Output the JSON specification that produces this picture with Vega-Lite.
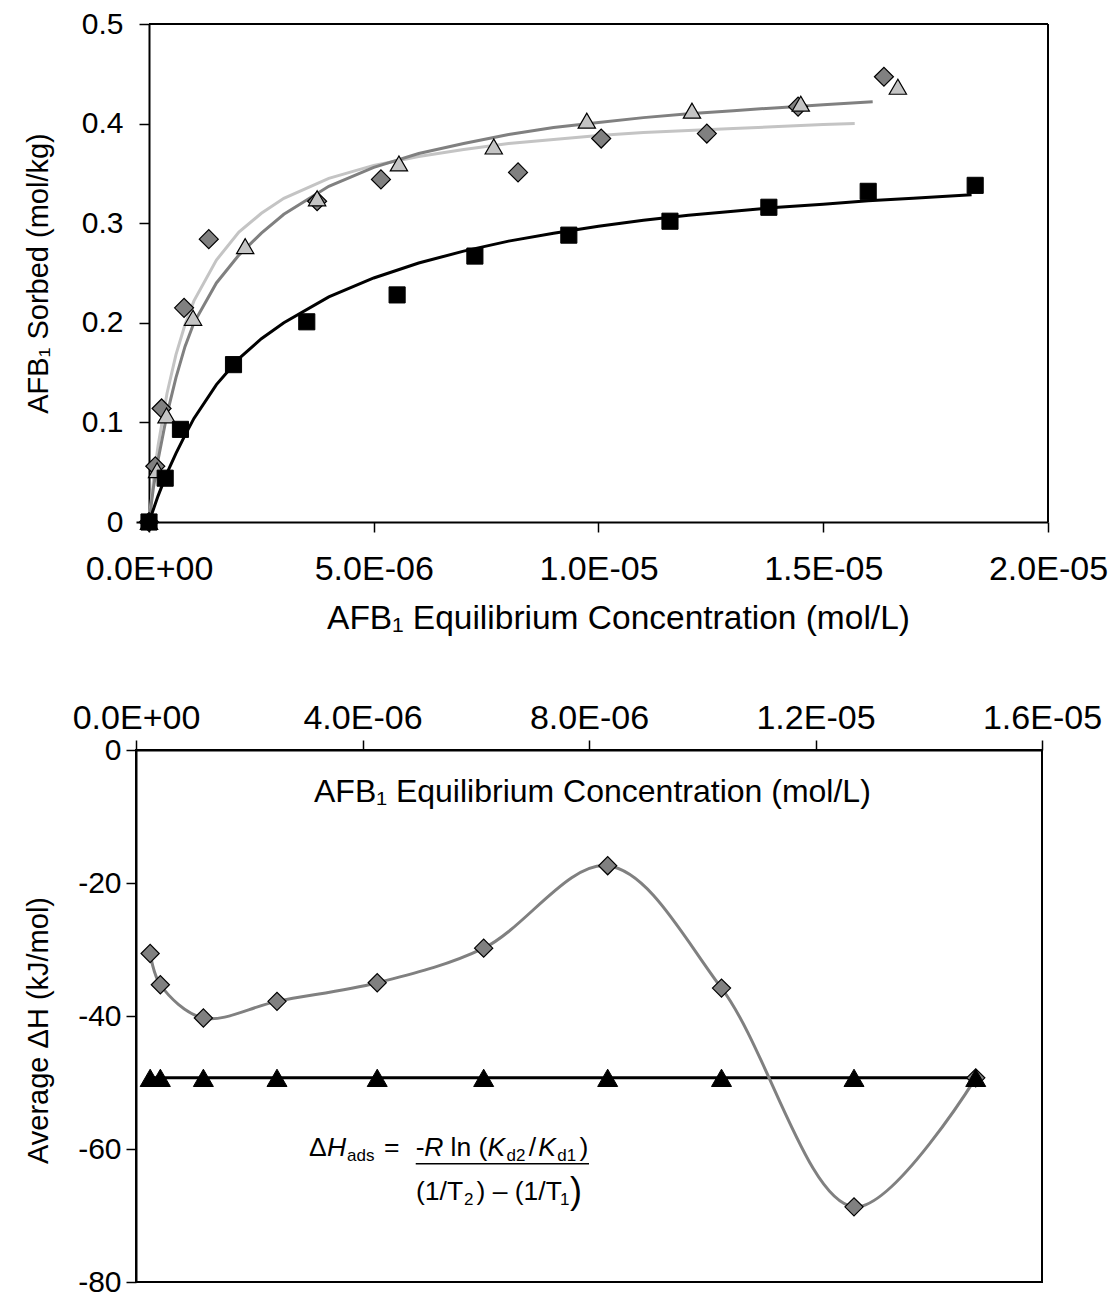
{
  "$schema": "https://vega.github.io/schema/vega-lite/v6.json",
  "background": "white",
  "padding": {"top": 9, "left": 23, "right": 2, "bottom": 0},
  "config": {
    "font": "Liberation Sans",
    "axis": {
      "labelFont": "Liberation Sans", "titleFont": "Liberation Sans",
      "labelFontSize": 30, "titleFontSize": 29, "titleFontWeight": "normal",
      "labelColor": "black", "titleColor": "black",
      "domainColor": "black", "tickColor": "black",
      "domainWidth": 2, "tickWidth": 1.5, "tickSize": 10,
      "grid": false, "labelFlush": false, "labelOverlap": false, "labelBound": false
    }
  },
  "datasets": {
    "one": [{}],
    "curves": [
      {"s": "C", "c": 0, "q": 0}, {"s": "C", "c": 1e-7, "q": 0.042}, {"s": "C", "c": 2e-7, "q": 0.076}, {"s": "C", "c": 4e-7, "q": 0.129}, {"s": "C", "c": 6e-7, "q": 0.168}, {"s": "C", "c": 8e-7, "q": 0.198}, {"s": "C", "c": 1e-6, "q": 0.222}, {"s": "C", "c": 1.5e-6, "q": 0.263}, {"s": "C", "c": 2e-6, "q": 0.291}, {"s": "C", "c": 2.5e-6, "q": 0.310}, {"s": "C", "c": 3e-6, "q": 0.325}, {"s": "C", "c": 4e-6, "q": 0.345}, {"s": "C", "c": 5e-6, "q": 0.358}, {"s": "C", "c": 6e-6, "q": 0.367}, {"s": "C", "c": 7e-6, "q": 0.374}, {"s": "C", "c": 8e-6, "q": 0.380}, {"s": "C", "c": 9e-6, "q": 0.384}, {"s": "C", "c": 1e-5, "q": 0.388}, {"s": "C", "c": 1.1e-5, "q": 0.391}, {"s": "C", "c": 1.2e-5, "q": 0.393}, {"s": "C", "c": 1.3e-5, "q": 0.395}, {"s": "C", "c": 1.4e-5, "q": 0.397}, {"s": "C", "c": 1.5e-5, "q": 0.399}, {"s": "C", "c": 1.57e-5, "q": 0.400},
      {"s": "B", "c": 0, "q": 0}, {"s": "B", "c": 1e-7, "q": 0.035}, {"s": "B", "c": 2e-7, "q": 0.062}, {"s": "B", "c": 4e-7, "q": 0.108}, {"s": "B", "c": 6e-7, "q": 0.145}, {"s": "B", "c": 8e-7, "q": 0.176}, {"s": "B", "c": 1e-6, "q": 0.200}, {"s": "B", "c": 1.5e-6, "q": 0.240}, {"s": "B", "c": 2e-6, "q": 0.268}, {"s": "B", "c": 2.5e-6, "q": 0.290}, {"s": "B", "c": 3e-6, "q": 0.309}, {"s": "B", "c": 4e-6, "q": 0.337}, {"s": "B", "c": 5e-6, "q": 0.356}, {"s": "B", "c": 6e-6, "q": 0.370}, {"s": "B", "c": 7e-6, "q": 0.380}, {"s": "B", "c": 8e-6, "q": 0.389}, {"s": "B", "c": 9e-6, "q": 0.396}, {"s": "B", "c": 1e-5, "q": 0.401}, {"s": "B", "c": 1.1e-5, "q": 0.406}, {"s": "B", "c": 1.2e-5, "q": 0.410}, {"s": "B", "c": 1.3e-5, "q": 0.413}, {"s": "B", "c": 1.4e-5, "q": 0.416}, {"s": "B", "c": 1.5e-5, "q": 0.419}, {"s": "B", "c": 1.61e-5, "q": 0.422},
      {"s": "A", "c": 0, "q": 0}, {"s": "A", "c": 2e-7, "q": 0.026}, {"s": "A", "c": 4e-7, "q": 0.049}, {"s": "A", "c": 6e-7, "q": 0.069}, {"s": "A", "c": 8e-7, "q": 0.087}, {"s": "A", "c": 1e-6, "q": 0.104}, {"s": "A", "c": 1.5e-6, "q": 0.138}, {"s": "A", "c": 2e-6, "q": 0.164}, {"s": "A", "c": 2.5e-6, "q": 0.184}, {"s": "A", "c": 3e-6, "q": 0.200}, {"s": "A", "c": 4e-6, "q": 0.226}, {"s": "A", "c": 5e-6, "q": 0.245}, {"s": "A", "c": 6e-6, "q": 0.260}, {"s": "A", "c": 7e-6, "q": 0.272}, {"s": "A", "c": 8e-6, "q": 0.282}, {"s": "A", "c": 9e-6, "q": 0.290}, {"s": "A", "c": 1e-5, "q": 0.297}, {"s": "A", "c": 1.1e-5, "q": 0.303}, {"s": "A", "c": 1.2e-5, "q": 0.308}, {"s": "A", "c": 1.3e-5, "q": 0.312}, {"s": "A", "c": 1.4e-5, "q": 0.316}, {"s": "A", "c": 1.5e-5, "q": 0.319}, {"s": "A", "c": 1.6e-5, "q": 0.3225}, {"s": "A", "c": 1.7e-5, "q": 0.325}, {"s": "A", "c": 1.83e-5, "q": 0.3285}
    ],
    "points": [
      {"s": "B", "c": 0, "q": 0}, {"s": "B", "c": 1.4e-7, "q": 0.056}, {"s": "B", "c": 2.8e-7, "q": 0.114}, {"s": "B", "c": 7.8e-7, "q": 0.215}, {"s": "B", "c": 1.33e-6, "q": 0.284}, {"s": "B", "c": 3.74e-6, "q": 0.322}, {"s": "B", "c": 5.16e-6, "q": 0.344}, {"s": "B", "c": 8.21e-6, "q": 0.351}, {"s": "B", "c": 1.006e-5, "q": 0.385}, {"s": "B", "c": 1.241e-5, "q": 0.390}, {"s": "B", "c": 1.444e-5, "q": 0.417}, {"s": "B", "c": 1.635e-5, "q": 0.447},
      {"s": "C", "c": 0, "q": 0}, {"s": "C", "c": 1.8e-7, "q": 0.052}, {"s": "C", "c": 3.9e-7, "q": 0.107}, {"s": "C", "c": 9.8e-7, "q": 0.205}, {"s": "C", "c": 2.14e-6, "q": 0.277}, {"s": "C", "c": 3.74e-6, "q": 0.325}, {"s": "C", "c": 5.56e-6, "q": 0.360}, {"s": "C", "c": 7.67e-6, "q": 0.377}, {"s": "C", "c": 9.74e-6, "q": 0.403}, {"s": "C", "c": 1.208e-5, "q": 0.413}, {"s": "C", "c": 1.45e-5, "q": 0.420}, {"s": "C", "c": 1.666e-5, "q": 0.437},
      {"s": "A", "c": 0, "q": 0}, {"s": "A", "c": 3.6e-7, "q": 0.044}, {"s": "A", "c": 7.0e-7, "q": 0.093}, {"s": "A", "c": 1.88e-6, "q": 0.158}, {"s": "A", "c": 3.51e-6, "q": 0.201}, {"s": "A", "c": 5.52e-6, "q": 0.228}, {"s": "A", "c": 7.25e-6, "q": 0.267}, {"s": "A", "c": 9.34e-6, "q": 0.288}, {"s": "A", "c": 1.159e-5, "q": 0.302}, {"s": "A", "c": 1.379e-5, "q": 0.316}, {"s": "A", "c": 1.6e-5, "q": 0.332}, {"s": "A", "c": 1.838e-5, "q": 0.338}
    ],
    "dhAvg": [
      {"c": 2.5e-7, "v": -30.6}, {"c": 4.3e-7, "v": -35.3}, {"c": 1.19e-6, "v": -40.3}, {"c": 2.49e-6, "v": -37.8}, {"c": 4.26e-6, "v": -35.0}, {"c": 6.14e-6, "v": -29.8}, {"c": 8.33e-6, "v": -17.4}, {"c": 1.034e-5, "v": -35.8}, {"c": 1.268e-5, "v": -68.7}, {"c": 1.483e-5, "v": -49.3}
    ],
    "dhTri": [
      {"c": 2.5e-7, "v": -49.3}, {"c": 4.3e-7, "v": -49.3}, {"c": 1.19e-6, "v": -49.3}, {"c": 2.49e-6, "v": -49.3}, {"c": 4.26e-6, "v": -49.3}, {"c": 6.14e-6, "v": -49.3}, {"c": 8.33e-6, "v": -49.3}, {"c": 1.034e-5, "v": -49.3}, {"c": 1.268e-5, "v": -49.3}, {"c": 1.483e-5, "v": -49.3}
    ]
  },
  "spacing": 65,
  "vconcat": [
    {
      "width": 912,
      "height": 498,
      "view": {"stroke": null},
      "layer": [
        {
          "data": {"name": "curves"},
          "mark": {"type": "line", "strokeWidth": 3},
          "encoding": {
            "x": {"field": "c", "type": "quantitative",
                  "scale": {"domain": [-2.892e-7, 2e-5], "nice": false, "zero": false},
                  "axis": {"values": [0, 5e-6, 1e-5, 1.5e-5, 2e-5],
                           "labelExpr": "datum.value < 1e-7 ? '0.0E+00' : datum.value < 7e-6 ? '5.0E-06' : datum.value < 1.2e-5 ? '1.0E-05' : datum.value < 1.7e-5 ? '1.5E-05' : '2.0E-05'",
                           "labelFontSize": 34, "titleFontSize": 33.5, "titleX": 482,
                           "title": "AFB₁ Equilibrium Concentration (mol/L)", "labelPadding": 20, "titlePadding": 16}},
            "y": {"field": "q", "type": "quantitative",
                  "scale": {"domain": [0, 0.5], "nice": false},
                  "axis": {"values": [0, 0.1, 0.2, 0.3, 0.4, 0.5], "format": ".1~f",
                           "title": "AFB₁ Sorbed (mol/kg)", "offset": -13, "labelPadding": 16, "titlePadding": 28}},
            "color": {"field": "s", "type": "nominal",
                      "scale": {"domain": ["A", "B", "C"], "range": ["#000000", "#808080", "#c4c4c4"]},
                      "legend": null}
          }
        },
        {
          "data": {"name": "one"},
          "mark": {"type": "rule", "color": "black", "strokeWidth": 2},
          "encoding": {"x": {"datum": 0, "type": "quantitative"}, "x2": {"datum": 2e-5}, "y": {"datum": 0.5, "type": "quantitative"}}
        },
        {
          "data": {"name": "one"},
          "mark": {"type": "rule", "color": "black", "strokeWidth": 2},
          "encoding": {"x": {"datum": 2e-5, "type": "quantitative"}, "y": {"datum": 0, "type": "quantitative"}, "y2": {"datum": 0.5}}
        },
        {
          "data": {"name": "points"},
          "transform": [{"filter": "datum.s == 'B'"}],
          "mark": {"type": "point", "shape": "diamond", "filled": true, "opacity": 1, "fill": "#808080", "stroke": "black", "strokeWidth": 1.2, "size": 360},
          "encoding": {"x": {"field": "c", "type": "quantitative"}, "y": {"field": "q", "type": "quantitative"}}
        },
        {
          "data": {"name": "points"},
          "transform": [{"filter": "datum.s == 'C'"}],
          "mark": {"type": "point", "shape": "triangle-up", "filled": true, "opacity": 1, "fill": "#c4c4c4", "stroke": "black", "strokeWidth": 1.2, "size": 300},
          "encoding": {"x": {"field": "c", "type": "quantitative"}, "y": {"field": "q", "type": "quantitative"}}
        },
        {
          "data": {"name": "points"},
          "transform": [{"filter": "datum.s == 'A'"}],
          "mark": {"type": "point", "shape": "square", "filled": true, "opacity": 1, "fill": "black", "stroke": "black", "strokeWidth": 1, "size": 260},
          "encoding": {"x": {"field": "c", "type": "quantitative"}, "y": {"field": "q", "type": "quantitative"}}
        }
      ]
    },
    {
      "width": 906,
      "height": 532,
      "view": {"stroke": "black", "strokeWidth": 2},
      "layer": [
        {
          "data": {"name": "dhTri"},
          "mark": {"type": "line", "color": "black", "strokeWidth": 3},
          "encoding": {
            "x": {"field": "c", "type": "quantitative",
                  "scale": {"domain": [0, 1.6e-5], "nice": false},
                  "axis": {"orient": "top", "values": [0, 4e-6, 8e-6, 1.2e-5, 1.6e-5],
                           "labelExpr": "datum.value < 1e-7 ? '0.0E+00' : datum.value < 5e-6 ? '4.0E-06' : datum.value < 1e-5 ? '8.0E-06' : datum.value < 1.4e-5 ? '1.2E-05' : '1.6E-05'",
                           "labelFontSize": 34, "title": null, "labelPadding": 5}},
            "y": {"field": "v", "type": "quantitative",
                  "scale": {"domain": [-80, 0], "nice": false},
                  "axis": {"values": [-80, -60, -40, -20, 0], "labelExpr": "'' + datum.value",
                           "title": "Average ΔH (kJ/mol)", "titleY": 280, "labelPadding": 5, "titlePadding": 24}}
          }
        },
        {
          "data": {"name": "dhAvg"},
          "mark": {"type": "line", "color": "#808080", "strokeWidth": 3, "interpolate": "catmull-rom"},
          "encoding": {"x": {"field": "c", "type": "quantitative"}, "y": {"field": "v", "type": "quantitative"}}
        },
        {
          "data": {"name": "dhAvg"},
          "mark": {"type": "point", "shape": "diamond", "filled": true, "opacity": 1, "fill": "#808080", "stroke": "black", "strokeWidth": 1.2, "size": 330},
          "encoding": {"x": {"field": "c", "type": "quantitative"}, "y": {"field": "v", "type": "quantitative"}}
        },
        {
          "data": {"name": "dhTri"},
          "mark": {"type": "point", "shape": "triangle-up", "filled": true, "opacity": 1, "fill": "black", "stroke": "black", "strokeWidth": 1, "size": 400},
          "encoding": {"x": {"field": "c", "type": "quantitative"}, "y": {"field": "v", "type": "quantitative"}}
        },
        {"data": {"name": "one"},
         "mark": {"type": "text", "text": "AFB₁ Equilibrium Concentration (mol/L)", "align": "center", "baseline": "middle", "fontSize": 32, "font": "Liberation Sans", "color": "black"},
         "encoding": {"x": {"datum": 8.06e-6, "type": "quantitative"}, "y": {"datum": -6.3, "type": "quantitative"}}},
        {"data": {"name": "one"},
         "mark": {"type": "text", "text": "Δ", "align": "left", "baseline": "middle", "fontSize": 26.5, "font": "Liberation Sans", "color": "black"},
         "encoding": {"x": {"datum": 3.055e-6, "type": "quantitative"}, "y": {"datum": -59.85, "type": "quantitative"}}},
        {"data": {"name": "one"},
         "mark": {"type": "text", "text": "H", "align": "left", "baseline": "middle", "fontSize": 26.5, "fontStyle": "italic", "font": "Liberation Sans", "color": "black"},
         "encoding": {"x": {"datum": 3.373e-6, "type": "quantitative"}, "y": {"datum": -59.85, "type": "quantitative"}}},
        {"data": {"name": "one"},
         "mark": {"type": "text", "text": "ads", "align": "left", "baseline": "middle", "fontSize": 17, "dy": 8, "font": "Liberation Sans", "color": "black"},
         "encoding": {"x": {"datum": 3.726e-6, "type": "quantitative"}, "y": {"datum": -59.85, "type": "quantitative"}}},
        {"data": {"name": "one"},
         "mark": {"type": "text", "text": "=", "align": "left", "baseline": "middle", "fontSize": 26.5, "font": "Liberation Sans", "color": "black"},
         "encoding": {"x": {"datum": 4.38e-6, "type": "quantitative"}, "y": {"datum": -59.85, "type": "quantitative"}}},
        {"data": {"name": "one"},
         "mark": {"type": "text", "text": "-", "align": "left", "baseline": "middle", "fontSize": 26.5, "font": "Liberation Sans", "color": "black"},
         "encoding": {"x": {"datum": 4.94e-6, "type": "quantitative"}, "y": {"datum": -59.85, "type": "quantitative"}}},
        {"data": {"name": "one"},
         "mark": {"type": "text", "text": "R", "align": "left", "baseline": "middle", "fontSize": 26.5, "fontStyle": "italic", "font": "Liberation Sans", "color": "black"},
         "encoding": {"x": {"datum": 5.09e-6, "type": "quantitative"}, "y": {"datum": -59.85, "type": "quantitative"}}},
        {"data": {"name": "one"},
         "mark": {"type": "text", "text": "ln (", "align": "left", "baseline": "middle", "fontSize": 26.5, "font": "Liberation Sans", "color": "black"},
         "encoding": {"x": {"datum": 5.556e-6, "type": "quantitative"}, "y": {"datum": -59.85, "type": "quantitative"}}},
        {"data": {"name": "one"},
         "mark": {"type": "text", "text": "K", "align": "left", "baseline": "middle", "fontSize": 26.5, "fontStyle": "italic", "font": "Liberation Sans", "color": "black"},
         "encoding": {"x": {"datum": 6.209e-6, "type": "quantitative"}, "y": {"datum": -59.85, "type": "quantitative"}}},
        {"data": {"name": "one"},
         "mark": {"type": "text", "text": "d2", "align": "left", "baseline": "middle", "fontSize": 17, "dy": 8, "font": "Liberation Sans", "color": "black"},
         "encoding": {"x": {"datum": 6.545e-6, "type": "quantitative"}, "y": {"datum": -59.85, "type": "quantitative"}}},
        {"data": {"name": "one"},
         "mark": {"type": "text", "text": "/", "align": "left", "baseline": "middle", "fontSize": 26.5, "font": "Liberation Sans", "color": "black"},
         "encoding": {"x": {"datum": 6.937e-6, "type": "quantitative"}, "y": {"datum": -59.85, "type": "quantitative"}}},
        {"data": {"name": "one"},
         "mark": {"type": "text", "text": "K", "align": "left", "baseline": "middle", "fontSize": 26.5, "fontStyle": "italic", "font": "Liberation Sans", "color": "black"},
         "encoding": {"x": {"datum": 7.105e-6, "type": "quantitative"}, "y": {"datum": -59.85, "type": "quantitative"}}},
        {"data": {"name": "one"},
         "mark": {"type": "text", "text": "d1", "align": "left", "baseline": "middle", "fontSize": 17, "dy": 8, "font": "Liberation Sans", "color": "black"},
         "encoding": {"x": {"datum": 7.44e-6, "type": "quantitative"}, "y": {"datum": -59.85, "type": "quantitative"}}},
        {"data": {"name": "one"},
         "mark": {"type": "text", "text": ")", "align": "left", "baseline": "middle", "fontSize": 26.5, "font": "Liberation Sans", "color": "black"},
         "encoding": {"x": {"datum": 7.832e-6, "type": "quantitative"}, "y": {"datum": -59.85, "type": "quantitative"}}},
        {"data": {"name": "one"},
         "mark": {"type": "rule", "color": "black", "strokeWidth": 1.5},
         "encoding": {"x": {"datum": 4.94e-6, "type": "quantitative"}, "x2": {"datum": 8.0e-6}, "y": {"datum": -62.2, "type": "quantitative"}}},
        {"data": {"name": "one"},
         "mark": {"type": "text", "text": "(1/T", "align": "left", "baseline": "middle", "fontSize": 26.5, "font": "Liberation Sans", "color": "black"},
         "encoding": {"x": {"datum": 4.945e-6, "type": "quantitative"}, "y": {"datum": -66.5, "type": "quantitative"}}},
        {"data": {"name": "one"},
         "mark": {"type": "text", "text": "2", "align": "left", "baseline": "middle", "fontSize": 17, "dy": 8, "font": "Liberation Sans", "color": "black"},
         "encoding": {"x": {"datum": 5.792e-6, "type": "quantitative"}, "y": {"datum": -66.5, "type": "quantitative"}}},
        {"data": {"name": "one"},
         "mark": {"type": "text", "text": ") – (1/T", "align": "left", "baseline": "middle", "fontSize": 26.5, "font": "Liberation Sans", "color": "black"},
         "encoding": {"x": {"datum": 6.013e-6, "type": "quantitative"}, "y": {"datum": -66.5, "type": "quantitative"}}},
        {"data": {"name": "one"},
         "mark": {"type": "text", "text": "1", "align": "left", "baseline": "middle", "fontSize": 17, "dy": 8, "font": "Liberation Sans", "color": "black"},
         "encoding": {"x": {"datum": 7.488e-6, "type": "quantitative"}, "y": {"datum": -66.5, "type": "quantitative"}}},
        {"data": {"name": "one"},
         "mark": {"type": "text", "text": ")", "align": "left", "baseline": "middle", "fontSize": 36, "font": "Liberation Sans", "color": "black"},
         "encoding": {"x": {"datum": 7.664e-6, "type": "quantitative"}, "y": {"datum": -66.5, "type": "quantitative"}}}
      ]
    }
  ]
}
